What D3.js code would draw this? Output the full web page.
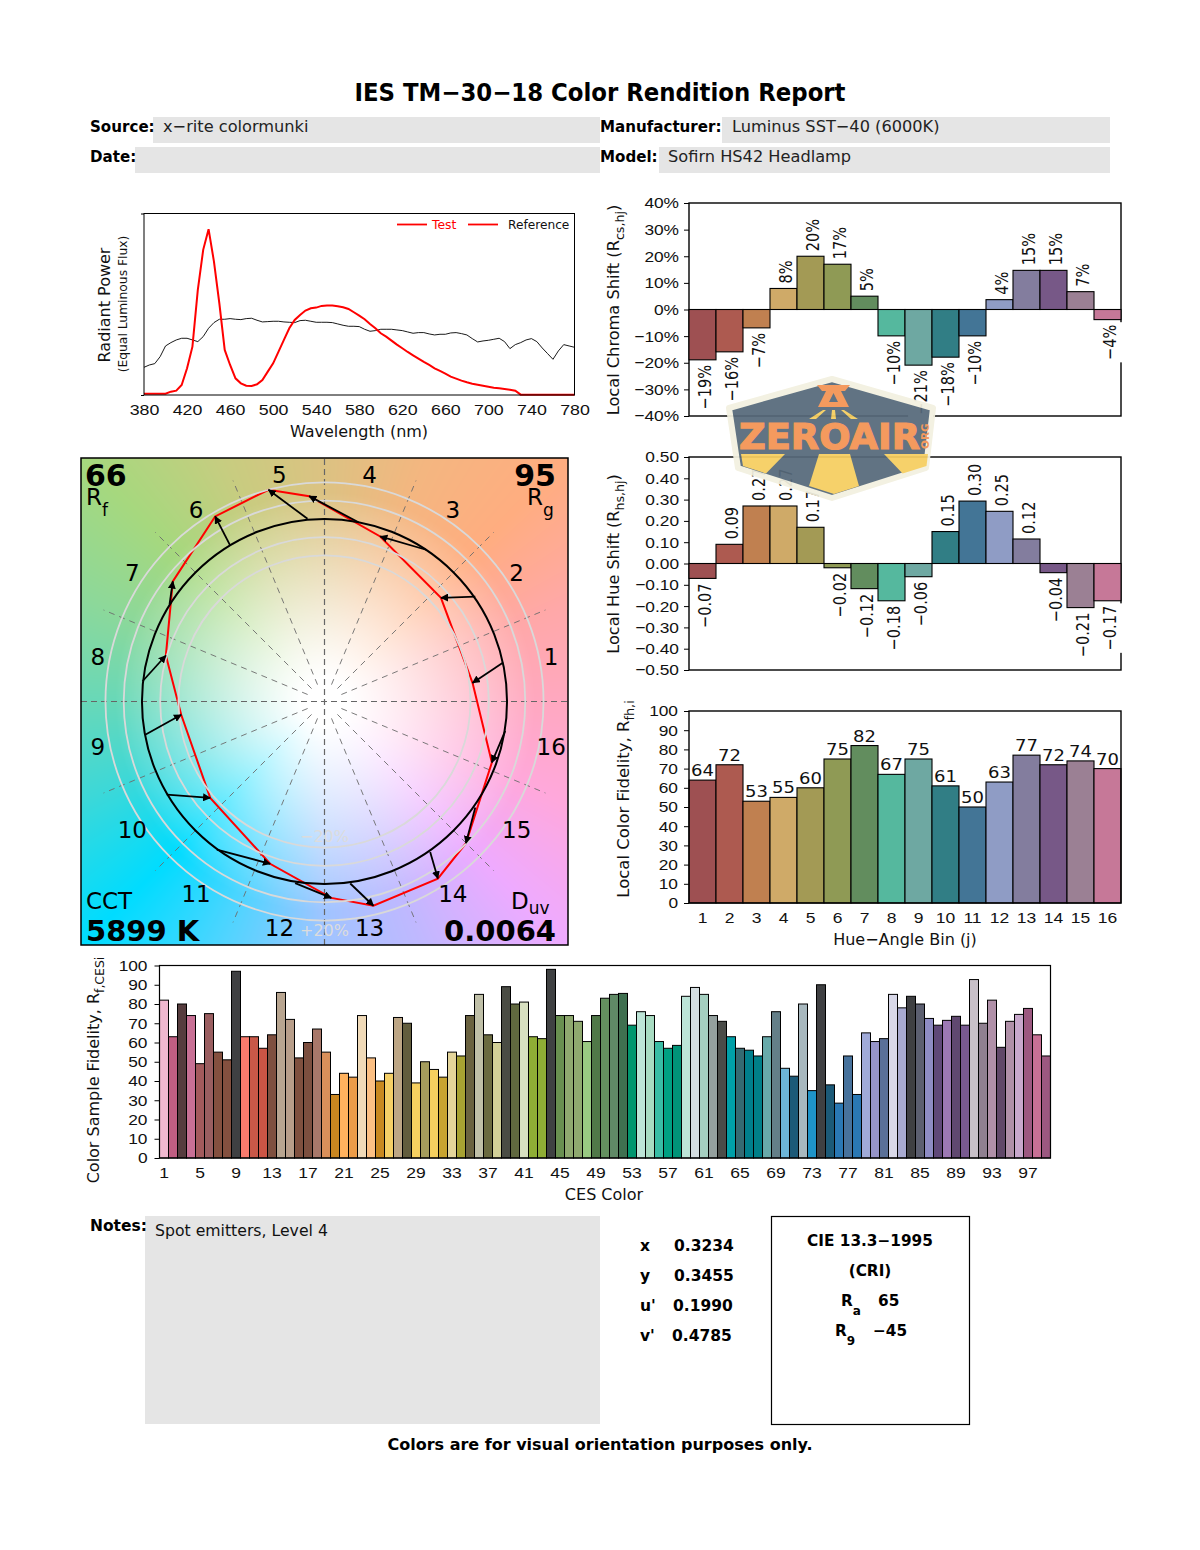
<!DOCTYPE html>
<html>
<head>
<meta charset="utf-8">
<style>
    body { margin: 0; background: #fff; }
    svg { display: block; font-family: 'DejaVu Sans', sans-serif; }
</style>
</head>
<body>
<svg width="1200" height="1550"></svg>
<script src="https://d3js.org/d3.v7.min.js"></script>
<script>
    // spectrum (arbitrary units, 5 nm steps)
    const wavelengths = d3.range(380, 785, 5);
    const testSpd = [4,4,4,4,4,10,13,30,80,145,315,435,497,400,275,135,90,50,35,28,27,32,45,70,95,130,165,200,225,240,253,260,262,267,268,268,266,263,258,248,238,227,213,200,185,175,163,151,140,129,119,109,99,90,80,72,64,55,49,43,38,34,31,28,25,22,20,18,16,13,1,1,1,1,1,1,1,1,1,1,1];
    const refSpd = [83,90,94,115,147,157,165,170,170,165,160,175,200,217,227,227,229,227,226,229,230,224,219,220,221,221,219,218,217,223,224,221,218,218,218,217,213,209,206,206,205,197,191,193,197,197,197,195,193,189,185,187,187,183,180,182,182,186,187,184,180,169,159,162,164,167,170,160,139,151,157,165,169,160,141,124,107,132,151,147,143];
    const wlTicks = [380,420,460,500,540,580,620,660,700,740,780];

    // hue bins
    const bins = ["1","2","3","4","5","6","7","8","9","10","11","12","13","14","15","16"];
    const binColors = ["#9e5052","#ad5a50","#c08050","#cfaa68","#a39a55","#8f9a55","#628d5e","#55b89e","#6ea8a2","#317e85","#437596","#8f9cc5","#837d9e","#775887","#9b8094","#c67898"];
    const chromaShift = [-18.9,-15.9,-6.9,7.9,20,17,5,-9.9,-20.9,-17.9,-9.9,3.7,14.7,14.7,6.7,-3.8];
    const chromaLabels = ["−19%","−16%","−7%","8%","20%","17%","5%","−10%","−21%","−18%","−10%","4%","15%","15%","7%","−4%"];
    const hueShift = [-0.07,0.09,0.27,0.27,0.17,-0.02,-0.118,-0.175,-0.062,0.15,0.293,0.245,0.115,-0.043,-0.207,-0.175];
    const hueLabels = ["−0.07","0.09","0.27","0.27","0.17","−0.02","−0.12","−0.18","−0.06","0.15","0.30","0.25","0.12","−0.04","−0.21","−0.17"];
    const binFidelity = [64,72,53,55,60,75,82,67,75,61,50,63,77,72,74,70];

    // CES samples
    const cesValues = [82,63,80,74,49,75,55,51,97,63,63,57,64,86,72,52,60,67,55,33,44,42,74,52,40,44,73,70,39,50,46,42,55,53,74,85,64,60,89,80,81,63,62,98,74,74,71,60.5,74,83,85,85.5,69,76,74,60.5,57,58.5,84,88.6,85,74,71,63,57,56,53,63,76,46.6,42.5,80,35,90,38,28.5,53,33,65,60.5,62,85,78,84,80,72.5,69,71.5,73.6,69,92.7,70,82,57.5,71,74.6,77.7,64,53];
    const cesColors = ["#f0b8cf","#c05e82","#563c3e","#c87095","#a35a5c","#9a5e60","#84503f","#84503f","#3f4042","#f97b6d","#c95848","#cc5545","#7f503f","#b8a590","#b89e8a","#7f503f","#7c4f3f","#a8786a","#d98f5a","#c98620","#ffb25e","#ec9c48","#f0dab8","#fcc084","#c8881f","#f5cf66","#bda685","#625d3d","#f6d060","#a49c5c","#f5d05f","#c8a430","#e4d59a","#a7a232","#6a6240","#c0c0a8","#6a6a40","#d2d098","#4a4c44","#60683f","#d8e0c0","#8fae35","#8fae35","#3f4142","#699050","#8fa96f","#8fa96f","#99ca82","#507848","#64905f","#608a66","#3f7050","#00966e","#bde5d7","#a8dcc2","#39bda5","#00a082","#009478","#bce4d7","#d4dde0","#a5cfc0","#94a09e","#4a4c48","#00a0a8","#356a72","#007f8c","#007f88","#68aaaa","#647f88","#6db6d8","#1c5a78","#a8b8be","#1f94c8","#3f4042","#1c5a78","#2a78b4","#47729c","#2a78b4","#a0aad8","#9694c8","#5a7098","#d8d8e8","#a8aad0","#3f4042","#5c5f70","#8e8cc4","#5f4878","#9c78b4","#604870","#785a90","#c8c0c8","#8f8090","#b090a8","#604868","#b090a8","#c8a8cc","#9c5880","#c87095","#9c5880"];

    // colour vector graphic: bin averages, radius 1 = reference circle
    const refX = [.979,.826,.561,.186,-.093,-.517,-.849,-.997,-.982,-.864,-.590,-.161,.141,.579,.826,.990];
    const refY = [.214,.575,.830,.982,1.001,.855,.532,.111,-.182,-.510,-.811,-.995,-.997,-.824,-.581,-.161];
    const testX = [.811,.638,.305,-.084,-.307,-.599,-.831,-.869,-.785,-.626,-.298,.037,.268,.621,.775,.917];
    const testY = [.102,.568,.904,1.125,1.160,1.014,.658,.252,-.073,-.528,-.889,-1.076,-1.119,-.970,-.776,-.334];
    const ringRadii = [0.8, 0.9, 1.1, 1.2];
    const hueAngles = [0,22,45,67,90,112,135,157,180,202,225,247,270,292,315,337,360];
    const hueColors = ["#ffa8c0","#ffa8a8","#ffad80","#f4b680","#dcc282","#c8cc80","#a6d87e","#8cd89a","#68d8b8","#3cd8d8","#00dcff","#50d4ff","#a0c4ff","#c0b8ff","#eeaaff","#ffa8dc","#ffa8c0"];

    let svg = d3.select("svg");

    // the report's numerals are wide and low: small font, stretched along the line
    function stretchText(sel, size) {
        sel.attr("font-size", 15.5).attr("fill", "#111").each(function () {
            this.setAttribute("textLength", this.getComputedTextLength() * size / 15.5);
            this.setAttribute("lengthAdjust", "spacingAndGlyphs");
        });
    }

    function axisText(g, size) {
        stretchText(g.selectAll("text"), size);
        g.selectAll("line").attr("stroke", "#000").attr("stroke-width", 1);
        g.select(".domain").remove();
    }

    function spine(x0, y0, x1, y1, w) {
        svg.append("rect").attr("x", x0).attr("y", y0).attr("width", x1 - x0).attr("height", y1 - y0)
            .attr("fill", "none").attr("stroke", "#000").attr("stroke-width", w);
    }

    // rotated axis title with a subscript part
    function yTitle(x, y, main, sub, tail, size) {
        let t = svg.append("text").attr("transform", `translate(${x},${y}) rotate(-90)`)
            .attr("text-anchor", "middle").attr("font-size", size).attr("fill", "#111");
        t.append("tspan").text(main);
        if (sub) {
            t.append("tspan").attr("font-size", size * 0.78).attr("dy", 5).text(sub);
            t.append("tspan").attr("dy", -5).text(tail);
        }
    }

    function plainText(x, y, str, opts) {
        opts = opts || {};
        return svg.append("text").attr("x", x).attr("y", y).text(str)
            .attr("font-size", opts.size || 16)
            .attr("font-weight", opts.bold ? "bold" : "normal")
            .attr("text-anchor", opts.anchor || "start")
            .attr("fill", opts.fill || "#000");
    }

    // letter with a subscript in one text element
    function subText(x, y, main, sub, size, subSize, drop) {
        let t = plainText(x, y, main, { size: size });
        t.append("tspan").attr("font-size", subSize).attr("dy", drop).text(sub);
        return t;
    }

    // ---- header
    plainText(600, 101, "IES TM−30−18 Color Rendition Report", { size: 24, bold: true, anchor: "middle" })
        .attr("textLength", 491).attr("lengthAdjust", "spacingAndGlyphs");
    const greyBoxes = [[153,117,447,26],[135,147,465,26],[722,117,388,26],[659,147,451,26],[145,1216,455,208]];
    svg.selectAll(".grey").data(greyBoxes).join("rect")
        .attr("x", d => d[0]).attr("y", d => d[1]).attr("width", d => d[2]).attr("height", d => d[3])
        .attr("fill", "#e5e5e5");
    plainText(90, 132, "Source:", { bold: true, size: 15.1 });
    plainText(90, 162, "Date:", { bold: true, size: 15.1 });
    plainText(600, 132, "Manufacturer:", { bold: true, size: 15.1 });
    plainText(600, 162, "Model:", { bold: true, size: 15.1 });
    plainText(163, 132, "x−rite colormunki", { fill: "#222", size: 16.2 });
    plainText(732, 132, "Luminus SST−40 (6000K)", { fill: "#222", size: 16.2 });
    plainText(668, 162, "Sofirn HS42 Headlamp", { fill: "#222", size: 16.2 });

    // ---- spectrum
    let xWl = d3.scaleLinear().domain([380, 780]).range([144, 574.5]);
    let ySpd = d3.scaleLinear().domain([0, 544]).range([395, 213.5]);
    let spdLine = d3.line().x((d, i) => xWl(wavelengths[i])).y(d => ySpd(d));
    svg.append("path").datum(refSpd).attr("d", spdLine).attr("fill", "none").attr("stroke", "#000").attr("stroke-width", 0.9);
    svg.append("path").datum(testSpd).attr("d", spdLine).attr("fill", "none").attr("stroke", "#f00").attr("stroke-width", 2);
    spine(144, 213.5, 574.5, 395, 1);
    svg.append("g").attr("transform", "translate(0,395)")
        .call(d3.axisBottom(xWl).tickValues(wlTicks).tickSize(0).tickPadding(9).tickFormat(d3.format("d")))
        .call(g => axisText(g, 17.8));
    svg.append("g").attr("transform", "translate(144,0)")
        .call(d3.axisLeft(ySpd).tickValues([0, 544]).tickSize(3).tickFormat(""))
        .call(g => g.selectAll("line").attr("stroke", "#000"))
        .call(g => g.select(".domain").remove());
    plainText(359, 437, "Wavelength (nm)", { anchor: "middle", fill: "#111" });
    yTitle(110, 305, "Radiant Power", null, null, 16);
    yTitle(127, 304, "(Equal Luminous Flux)", null, null, 12.3);
    svg.append("line").attr("x1", 397).attr("x2", 427).attr("y1", 224.5).attr("y2", 224.5).attr("stroke", "#f00").attr("stroke-width", 1.8);
    plainText(432, 229, "Test", { size: 12.4, fill: "#f00" });
    svg.append("line").attr("x1", 468).attr("x2", 498).attr("y1", 224.5).attr("y2", 224.5).attr("stroke", "#f00").attr("stroke-width", 1.8);
    plainText(508, 229, "Reference", { size: 12.2, fill: "#111" });

    // ---- colour vector graphic
    const cvgLeft = 81, cvgTop = 458, cvgSize = 487;
    let xC = d3.scaleLinear().domain([-1.334, 1.334]).range([cvgLeft, cvgLeft + cvgSize]);
    let yC = d3.scaleLinear().domain([-1.334, 1.334]).range([cvgTop + cvgSize, cvgTop]);
    let unit = xC(1) - xC(0);

    // background painted on a canvas: hue from the angle, washed to white towards the centre
    let hueScale = d3.scaleLinear().domain(hueAngles).range(hueColors).interpolate(d3.interpolateRgb);
    let canvas = document.createElement("canvas");
    canvas.width = cvgSize; canvas.height = cvgSize;
    let ctx = canvas.getContext("2d");
    let img = ctx.createImageData(cvgSize, cvgSize);
    for (let py = 0; py < cvgSize; py++) {
        for (let px = 0; px < cvgSize; px++) {
            let dx = xC.invert(cvgLeft + px), dy = yC.invert(cvgTop + py);
            let rho = Math.sqrt(dx * dx + dy * dy);
            let ang = (Math.atan2(dy, dx) * 180 / Math.PI + 360) % 360;
            let c = d3.rgb(hueScale(ang));
            let t = Math.pow(Math.max(0, Math.min(1, (rho - 0.12) / 1.03)), 1.15);
            let k = (py * cvgSize + px) * 4;
            img.data[k] = 255 + (c.r - 255) * t;
            img.data[k + 1] = 255 + (c.g - 255) * t;
            img.data[k + 2] = 255 + (c.b - 255) * t;
            img.data[k + 3] = 255;
        }
    }
    ctx.putImageData(img, 0, 0);
    svg.append("image").attr("x", cvgLeft).attr("y", cvgTop).attr("width", cvgSize).attr("height", cvgSize)
        .attr("href", canvas.toDataURL());

    // spokes
    let spokes = d3.range(0, 16).map(i => (i + 1) * 22.5).filter(a => a % 90 !== 0);
    svg.selectAll(".spoke").data(spokes).join("line")
        .attr("x1", d => xC(0.1 * Math.cos(d * Math.PI / 180)))
        .attr("y1", d => yC(0.1 * Math.sin(d * Math.PI / 180)))
        .attr("x2", d => xC(1.31 * Math.cos(d * Math.PI / 180)))
        .attr("y2", d => yC(1.31 * Math.sin(d * Math.PI / 180)))
        .attr("stroke", "#6c6c6c").attr("stroke-width", 0.9).attr("stroke-dasharray", "6,5");
    svg.append("line").attr("x1", xC(-1.334)).attr("x2", xC(1.334)).attr("y1", yC(0)).attr("y2", yC(0))
        .attr("stroke", "#666").attr("stroke-width", 1.2).attr("stroke-dasharray", "6,4");
    svg.append("line").attr("x1", xC(0)).attr("x2", xC(0)).attr("y1", yC(-1.334)).attr("y2", yC(1.334))
        .attr("stroke", "#666").attr("stroke-width", 1.2).attr("stroke-dasharray", "6,4");

    // test polygon goes under the rings, as in the report
    let testPts = testX.map((v, i) => [v, testY[i]]);
    svg.append("path").datum(testPts)
        .attr("d", d3.line().x(d => xC(d[0])).y(d => yC(d[1])).curve(d3.curveLinearClosed))
        .attr("fill", "none").attr("stroke", "#f00").attr("stroke-width", 2);

    svg.selectAll(".ring").data(ringRadii).join("circle")
        .attr("cx", xC(0)).attr("cy", yC(0)).attr("r", d => d * unit)
        .attr("fill", "none").attr("stroke", "#d9d9d9").attr("stroke-width", 1.8);
    plainText(xC(0), 842, "−20%", { size: 16, anchor: "middle", fill: "#dcdcdc" });
    plainText(xC(0), 936, "+20%", { size: 16, anchor: "middle", fill: "#dcdcdc" });

    svg.append("circle").attr("cx", xC(0)).attr("cy", yC(0)).attr("r", unit)
        .attr("fill", "none").attr("stroke", "#000").attr("stroke-width", 2);

    // arrows from reference to test
    svg.append("defs").append("marker").attr("id", "head")
        .attr("viewBox", "0 0 10 10").attr("refX", 9).attr("refY", 5)
        .attr("markerUnits", "userSpaceOnUse").attr("markerWidth", 8).attr("markerHeight", 8).attr("orient", "auto")
        .append("path").attr("d", "M0,0L10,5L0,10Z").attr("fill", "#000");
    svg.selectAll(".arrow").data(bins).join("line")
        .attr("x1", (d, i) => xC(refX[i])).attr("y1", (d, i) => yC(refY[i]))
        .attr("x2", (d, i) => xC(testX[i])).attr("y2", (d, i) => yC(testY[i]))
        .attr("stroke", "#000").attr("stroke-width", 1.8).attr("marker-end", "url(#head)");

    // bin numbers around the plot
    svg.selectAll(".binNo").data(bins).join("text")
        .attr("x", (d, i) => xC(1.266 * Math.cos((i + .5) * 22.5 * Math.PI / 180)))
        .attr("y", (d, i) => yC(1.266 * Math.sin((i + .5) * 22.5 * Math.PI / 180)))
        .attr("dy", "0.36em").attr("text-anchor", "middle").attr("font-size", 23).attr("fill", "#000")
        .text(d => d);
    spine(cvgLeft, cvgTop, cvgLeft + cvgSize, cvgTop + cvgSize, 1.5);

    plainText(85, 486, "66", { size: 30, bold: true });
    subText(86, 505, "R", "f", 23, 17, 11);
    plainText(556, 486, "95", { size: 30, bold: true, anchor: "end" });
    subText(527, 505, "R", "g", 23, 17, 11);
    plainText(86, 909, "CCT", { size: 23 });
    plainText(86, 941, "5899 K", { size: 29, bold: true });
    subText(511, 909, "D", "uv", 23, 17, 5);
    plainText(556, 941, "0.0064", { size: 29, bold: true, anchor: "end" });

    // ---- bin bar charts
    const binLeft = 689, binRight = 1121;
    let xBin = d3.scaleBand().domain(bins).range([binLeft, binRight]);

    function shiftChart(top, bottom, values, labels, domain, tickVals, fmt) {
        let y = d3.scaleLinear().domain(domain).range([bottom, top]);
        spine(binLeft, top, binRight, bottom, 1.4);
        svg.append("g").attr("transform", `translate(${binLeft},0)`)
            .call(d3.axisLeft(y).tickValues(tickVals).tickSize(5).tickPadding(5).tickFormat(fmt))
            .call(g => axisText(g, 17.3));
        // white backings first: they break the frame where a label runs over it
        let rows = bins.map((b, i) => ({ b, v: values[i], l: labels[i] }));
        let labelG = svg.append("g");
        let bars = svg.append("g");
        bars.selectAll("rect").data(rows).join("rect")
            .attr("x", d => xBin(d.b)).attr("width", xBin.bandwidth())
            .attr("y", d => Math.min(y(d.v), y(0))).attr("height", d => Math.abs(y(d.v) - y(0)))
            .attr("fill", (d, i) => binColors[i]).attr("stroke", "#000").attr("stroke-width", 1.1);
        let textG = svg.append("g");
        rows.forEach(d => {
            let px = xBin(d.b) + xBin.bandwidth() / 2;
            let py = d.v >= 0 ? y(d.v) - 5 : y(d.v) + 5;
            // rotated labels run short along the text and full height across it
            let tf = `translate(${px},${py}) rotate(-90) scale(0.81,1)`;
            let t = textG.append("text").attr("transform", tf)
                .attr("text-anchor", d.v >= 0 ? "start" : "end").attr("dy", "0.45em")
                .attr("font-size", 18).attr("fill", "#111").text(d.l);
            let bb = t.node().getBBox();
            labelG.append("rect").attr("transform", tf)
                .attr("x", bb.x - 3).attr("y", bb.y - 2).attr("width", bb.width + 6).attr("height", bb.height + 4)
                .attr("fill", "#fff");
        });
    }

    const minusFmt = s => s.replace("-", "−");
    shiftChart(203, 416, chromaShift, chromaLabels, [-40, 40], d3.range(-40, 41, 10), d => minusFmt(d + "%"));
    shiftChart(457, 670, hueShift, hueLabels, [-0.5, 0.5], d3.range(-5, 6).map(d => d / 10), d => minusFmt(d3.format(".2f")(d)));
    yTitle(619, 310, "Local Chroma Shift (R", "cs,hj", ")", 16.2);
    yTitle(619, 564, "Local Hue Shift (R", "hs,hj", ")", 16.1);

    // fidelity by bin
    let yFid = d3.scaleLinear().domain([0, 100]).range([903, 711]);
    svg.selectAll(".fid").data(binFidelity).join("rect")
        .attr("x", (d, i) => xBin(bins[i])).attr("width", xBin.bandwidth())
        .attr("y", d => yFid(d)).attr("height", d => yFid(0) - yFid(d))
        .attr("fill", (d, i) => binColors[i]).attr("stroke", "#000").attr("stroke-width", 1.1);
    svg.selectAll(".fidLabel").data(binFidelity).join("text")
        .attr("x", (d, i) => xBin(bins[i]) + xBin.bandwidth() / 2).attr("y", d => yFid(d) - 4)
        .attr("text-anchor", "middle").text(d => d)
        .call(sel => stretchText(sel, 18));
    spine(binLeft, 711, binRight, 903, 1.4);
    svg.append("g").attr("transform", `translate(${binLeft},0)`)
        .call(d3.axisLeft(yFid).tickValues(d3.range(0, 101, 10)).tickSize(5).tickPadding(6))
        .call(g => axisText(g, 17.3));
    svg.append("g").attr("transform", "translate(0,903)")
        .call(d3.axisBottom(xBin).tickSize(0).tickPadding(9))
        .call(g => axisText(g, 17.5));
    plainText(905, 945, "Hue−Angle Bin (j)", { anchor: "middle", fill: "#111" });
    yTitle(629, 799, "Local Color Fidelity, R", "fh,i", "", 16.5);

    // ---- CES samples
    let xCes = d3.scaleBand().domain(d3.range(1, 100)).range([159.5, 1050.5]);
    let yCes = d3.scaleLinear().domain([0, 100]).range([1158, 965.5]);
    svg.selectAll(".ces").data(cesValues).join("rect")
        .attr("x", (d, i) => xCes(i + 1)).attr("width", xCes.bandwidth())
        .attr("y", d => yCes(d)).attr("height", d => yCes(0) - yCes(d))
        .attr("fill", (d, i) => cesColors[i]).attr("stroke", "#000").attr("stroke-width", 1);
    spine(159.5, 965.5, 1050.5, 1158, 1.2);
    svg.append("g").attr("transform", "translate(159.5,0)")
        .call(d3.axisLeft(yCes).tickValues(d3.range(0, 101, 10)).tickSize(5).tickPadding(7))
        .call(g => axisText(g, 17.3));
    svg.append("g").attr("transform", "translate(0,1158)")
        .call(d3.axisBottom(xCes).tickValues(d3.range(1, 100, 4)).tickSize(0).tickPadding(9))
        .call(g => axisText(g, 17.5));
    plainText(604, 1200, "CES Color", { anchor: "middle", fill: "#111" });
    yTitle(99, 1070, "Color Sample Fidelity, R", "f,CESi", "", 16);

    // ---- notes and metrics
    plainText(90, 1231, "Notes:", { bold: true, size: 15.5 });
    plainText(155, 1236, "Spot emitters, Level 4", { fill: "#111", size: 15.7 });

    const chromNames = ["x", "y", "u'", "v'"];
    const chromValues = ["0.3234", "0.3455", "0.1990", "0.4785"];
    const chromX = [674, 674, 673, 672];
    chromNames.forEach((n, i) => {
        plainText(640, 1251 + i * 30, n, { bold: true, size: 15.5 });
        plainText(chromX[i], 1251 + i * 30, chromValues[i], { bold: true, size: 15.5 });
    });

    svg.append("rect").attr("x", 771.5).attr("y", 1216.5).attr("width", 198).attr("height", 208)
        .attr("fill", "none").attr("stroke", "#000").attr("stroke-width", 1.2);
    plainText(870, 1246, "CIE 13.3−1995", { bold: true, anchor: "middle", size: 15.3 });
    plainText(870, 1276, "(CRI)", { bold: true, anchor: "middle", size: 15.3 });
    let ra = plainText(841, 1306, "R", { bold: true, size: 15.3 });
    ra.append("tspan").attr("font-size", 12).attr("dy", 9).text("a");
    plainText(878, 1306, "65", { bold: true, size: 15.3 });
    let r9 = plainText(835, 1336, "R", { bold: true, size: 15.3 });
    r9.append("tspan").attr("font-size", 12).attr("dy", 9).text("9");
    plainText(873, 1336, "−45", { bold: true, size: 15.3 });
    plainText(600, 1450, "Colors are for visual orientation purposes only.", { bold: true, anchor: "middle" });

    // ---- site watermark on top of everything, slightly see-through
    let logo = svg.append("g").attr("opacity", 0.93);
    logo.append("path").attr("d", "M832,379L933,408L926,468L832,498L738,468L729,408Z")
        .attr("fill", "#56697a").attr("stroke", "#f3f1e0").attr("stroke-width", 6).attr("stroke-linejoin", "round");
    logo.append("path").attr("d", "M817,385H850L845,391H841L849,407H818L826,391H822ZM833.5,393L829,402H838Z")
        .attr("fill", "#f49352").attr("fill-rule", "evenodd");
    logo.append("path").attr("d", "M809,419L823,410L826,410L816,419ZM831,419L832,410L835,410L836,419ZM858,419L844,410L841,410L851,419Z")
        .attr("fill", "#f6ce5f");
    logo.append("text").attr("x", 739).attr("y", 449).attr("font-size", 36).attr("font-weight", "bold")
        .attr("textLength", 181).attr("lengthAdjust", "spacingAndGlyphs")
        .attr("fill", "#f49352").attr("stroke", "#f49352").attr("stroke-width", 1.2).text("ZEROAIR");
    logo.append("text").attr("transform", "translate(929,449) rotate(-90)").attr("font-size", 10.5).attr("font-weight", "bold")
        .attr("fill", "#f49352").text("ORG");
    logo.append("path").attr("d", "M741,454H785L766,473.5L743,466ZM819,454H850L859,486L834,494L809,486ZM884,454H928L926.5,466L902.6,473.5Z")
        .attr("fill", "#f6ce5f");
</script>
</body>
</html>
